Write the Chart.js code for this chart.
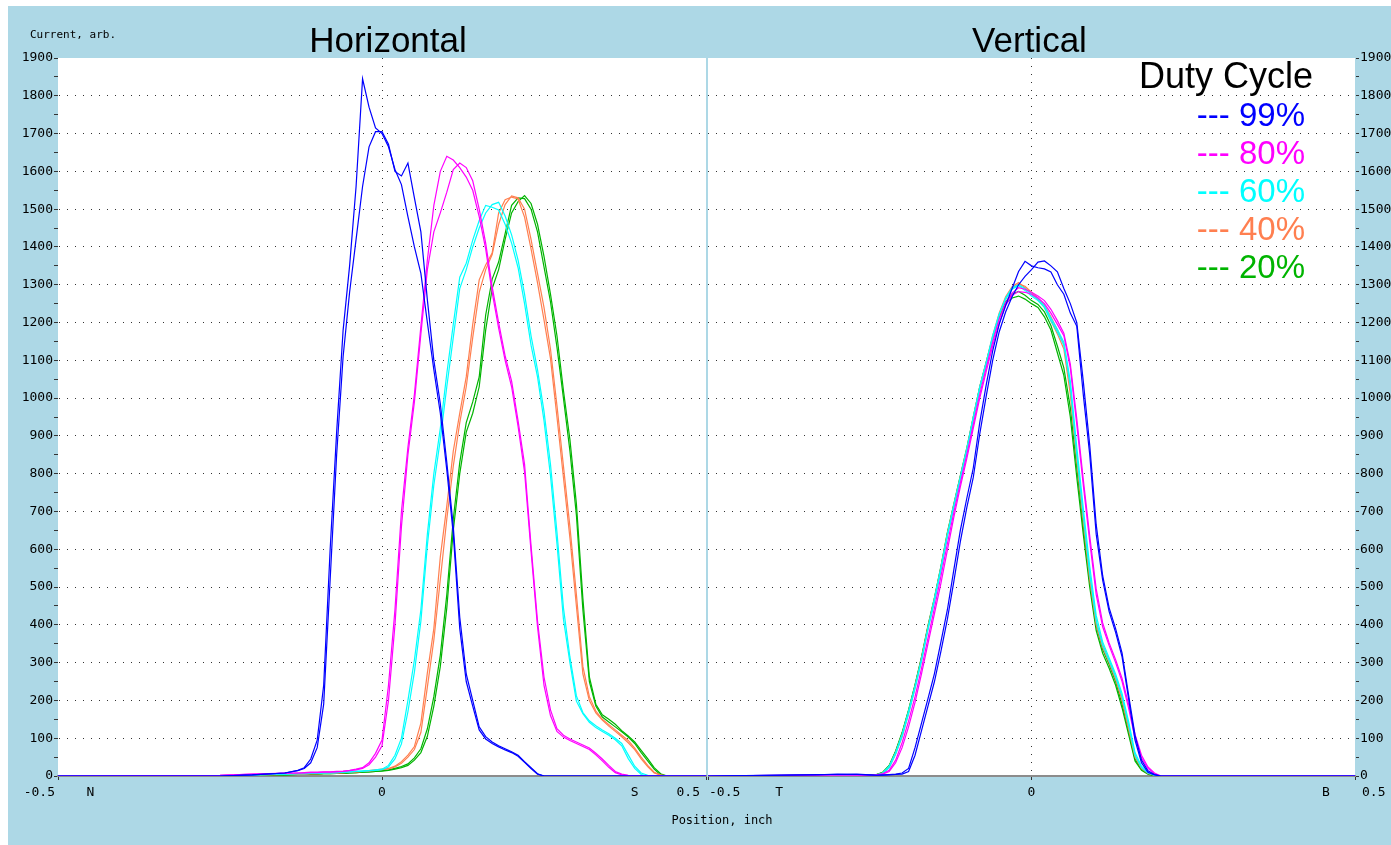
<!DOCTYPE html>
<html>
<head>
<meta charset="utf-8">
<title>Duty Cycle - Horizontal / Vertical</title>
<script src="https://cdn.jsdelivr.net/npm/chart.js@4.4.1/dist/chart.umd.min.js"></script>
<style>
    html, body { margin: 0; padding: 0; background: #fff; }
    #pagina { position: relative; width: 1391px; height: 845px; overflow: hidden; background: #fff; }
    #marco { position: absolute; left: 8px; top: 6px; width: 1383px; height: 839px; background: #add8e6; }
    canvas { position: absolute; display: block; }
    #graficoH { left: 8px; top: 6px; }
    #graficoV { left: 708px; top: 6px; }
    #ejeX { position: absolute; left: 622px; top: 813px; width: 200px; text-align: center;
            font: 12px "DejaVu Sans Mono", monospace; color: #000; }
</style>
</head>
<body>
<div id="pagina">
    <div id="marco"></div>
    <canvas id="graficoH" width="700" height="839"></canvas>
    <canvas id="graficoV" width="683" height="839"></canvas>
    <div id="ejeX">Position, inch</div>
</div>
<script>
// posiciones (inch) de cada barrido
const posH = [
    -0.5, -0.25, -0.2, -0.15, -0.13, -0.12, -0.11, -0.1, -0.09, -0.08,
    -0.07, -0.06, -0.05, -0.04, -0.03, -0.02, -0.01, 0, 0.01, 0.02,
    0.03, 0.04, 0.05, 0.06, 0.07, 0.08, 0.09, 0.1, 0.11, 0.12,
    0.13, 0.14, 0.15, 0.16, 0.17, 0.18, 0.19, 0.2, 0.21, 0.22,
    0.23, 0.24, 0.25, 0.26, 0.27, 0.28, 0.29, 0.3, 0.31, 0.32,
    0.33, 0.34, 0.35, 0.36, 0.37, 0.38, 0.39, 0.4, 0.41, 0.42,
    0.43, 0.44, 0.45, 0.5
]
const posV = [
    -0.5, -0.33, -0.3, -0.27, -0.25, -0.24, -0.23, -0.22, -0.21, -0.2,
    -0.19, -0.18, -0.17, -0.16, -0.15, -0.14, -0.13, -0.12, -0.11, -0.1,
    -0.09, -0.08, -0.07, -0.06, -0.05, -0.04, -0.03, -0.02, -0.01, 0,
    0.01, 0.02, 0.03, 0.04, 0.05, 0.06, 0.07, 0.08, 0.09, 0.1,
    0.11, 0.12, 0.13, 0.14, 0.15, 0.16, 0.17, 0.18, 0.19, 0.2,
    0.21, 0.5
]

// Horizontal, dos barridos por ciclo
const h99a = [
    0, 0, 3, 8, 15, 22, 45, 95, 240, 600,
    910, 1180, 1350, 1560, 1845, 1770, 1715, 1700, 1665, 1605,
    1565, 1480, 1400, 1330, 1200, 1075, 960, 810, 640, 390,
    250, 185, 122, 98, 86, 77, 69, 62, 52, 36,
    20, 5, 0, 0, 0, 0, 0, 0, 0, 0,
    0, 0, 0, 0, 0, 0, 0, 0, 0, 0,
    0, 0, 0, 0
]
const h99b = [
    0, 0, 3, 8, 14, 20, 35, 75, 190, 520,
    850, 1110, 1280, 1420, 1560, 1665, 1705, 1705, 1672, 1600,
    1588, 1622, 1530, 1440, 1260, 1100, 985, 830, 660, 420,
    270, 200, 130, 104, 90, 80, 72, 64, 55, 38,
    22, 6, 0, 0, 0, 0, 0, 0, 0, 0,
    0, 0, 0, 0, 0, 0, 0, 0, 0, 0,
    0, 0, 0, 0
]
const h80a = [
    0, 2, 5, 8, 8, 9, 10, 10, 11, 11,
    12, 13, 15, 18, 22, 35, 60, 95, 240, 440,
    700, 870, 1010, 1190, 1365, 1510, 1600, 1640, 1630, 1610,
    1585, 1550, 1480, 1395, 1280, 1185, 1100, 1030, 925, 805,
    595, 395, 240, 160, 118, 103, 94, 86, 78, 70,
    56, 40, 23, 9, 3, 1, 0, 0, 0, 0,
    0, 0, 0, 0
]
const h80b = [
    0, 2, 5, 7, 8, 8, 9, 9, 10, 10,
    11, 12, 14, 16, 20, 30, 50, 80, 200, 400,
    660, 850, 990, 1170, 1340, 1440, 1490, 1545, 1605, 1622,
    1610, 1575, 1500, 1410, 1295, 1200, 1112, 1045, 940, 825,
    610, 410, 262, 175, 125, 108, 98, 90, 82, 74,
    60, 45, 28, 12, 5, 2, 0, 0, 0, 0,
    0, 0, 0, 0
]
const h60a = [
    0, 1, 3, 5, 6, 6, 7, 7, 8, 8,
    9, 10, 11, 12, 13, 14, 16, 18, 28, 55,
    100, 200, 307, 440, 640, 800, 920, 1065, 1195, 1320,
    1357, 1418, 1470, 1510, 1505, 1498, 1460, 1410, 1345, 1250,
    1140, 1056, 940, 795, 615, 415, 300, 198, 165, 142,
    128, 118, 108, 96, 80, 46, 20, 4, 0, 0,
    0, 0, 0, 0
]
const h60b = [
    0, 1, 3, 5, 6, 6, 7, 7, 8, 8,
    9, 10, 11, 12, 13, 14, 15, 17, 24, 45,
    85, 170, 275, 410, 610, 770, 890, 1030, 1160, 1290,
    1340, 1400, 1450, 1490, 1512, 1518, 1482, 1432, 1365, 1275,
    1165, 1075, 965, 825, 645, 445, 315, 212, 168, 146,
    133, 122, 112, 100, 86, 56, 26, 8, 2, 0,
    0, 0, 0, 0
]
const h40a = [
    0, 1, 3, 4, 5, 5, 6, 6, 7, 7,
    8, 9, 10, 11, 12, 14, 16, 18, 20, 26,
    38, 55, 78, 140, 273, 390, 580, 715, 860, 960,
    1056, 1195, 1313, 1352, 1384, 1490, 1525, 1532, 1527, 1479,
    1395, 1305, 1207, 1105, 950, 790, 630, 450, 270, 200,
    167, 148, 132, 118, 104, 88, 70, 45, 25, 8,
    2, 0, 0, 0
]
const h40b = [
    0, 1, 3, 4, 5, 5, 6, 6, 7, 7,
    8, 9, 10, 11, 12, 13, 15, 17, 19, 24,
    34, 50, 70, 115, 235, 360, 520, 680, 820, 935,
    1030, 1160, 1280, 1340, 1380, 1460, 1512, 1535, 1530, 1500,
    1420, 1330, 1240, 1130, 980, 820, 660, 480, 290, 210,
    172, 150, 136, 122, 108, 94, 74, 50, 28, 10,
    3, 0, 0, 0
]
const h20a = [
    0, 0, 2, 3, 4, 4, 5, 5, 6, 6,
    7, 7, 8, 9, 10, 11, 12, 14, 16, 20,
    25, 32, 48, 72, 125, 210, 320, 480, 680, 830,
    935, 990, 1056, 1220, 1315, 1360, 1435, 1510, 1530, 1528,
    1500, 1440, 1347, 1255, 1135, 1000, 860, 690, 440, 250,
    185, 156, 143, 130, 117, 103, 86, 62, 40, 18,
    3, 0, 0, 0
]
const h20b = [
    0, 0, 2, 3, 4, 4, 5, 5, 6, 6,
    7, 7, 8, 9, 10, 11, 12, 13, 15, 18,
    22, 28, 42, 62, 105, 185, 290, 445, 650, 800,
    910, 960, 1030, 1180, 1290, 1340, 1420, 1490, 1520, 1536,
    1515, 1460, 1375, 1275, 1165, 1020, 890, 720, 470, 262,
    190, 162, 150, 137, 120, 106, 90, 68, 46, 22,
    6, 0, 0, 0
]

// Vertical
const v99a = [
    0, 4, 4, 5, 3, 2, 3, 4, 5, 8,
    20, 75, 140, 205, 271, 355, 440, 546, 650, 735,
    815, 935, 1035, 1125, 1195, 1245, 1290, 1335, 1362, 1350,
    1345, 1342, 1334, 1300, 1275, 1225, 1190, 1010, 850, 640,
    518, 435, 380, 315, 205, 95, 35, 10, 3, 0,
    0, 0
]
const v99b = [
    0, 3, 5, 4, 3, 2, 2, 3, 4, 5,
    12, 55, 120, 185, 250, 330, 415, 515, 620, 710,
    790, 905, 1005, 1100, 1175, 1228, 1268, 1300, 1322, 1340,
    1360, 1363, 1350, 1334, 1290, 1250, 1200, 1045, 875, 665,
    530, 445, 390, 325, 215, 108, 42, 14, 4, 0,
    0, 0
]
const v80a = [
    0, 3, 4, 3, 2, 3, 5, 12, 35, 75,
    130, 195, 270, 350, 430, 510, 598, 685, 765, 840,
    920, 1000, 1070, 1138, 1198, 1245, 1272, 1282, 1280, 1275,
    1265, 1250, 1225, 1195, 1165, 1080, 930, 770, 620, 480,
    395, 345, 300, 250, 180, 100, 48, 20, 6, 0,
    0, 0
]
const v80b = [
    0, 2, 3, 2, 2, 3, 6, 15, 42, 88,
    145, 210, 285, 365, 445, 528, 615, 698, 775, 850,
    930, 1010, 1080, 1148, 1208, 1252, 1278, 1292, 1288, 1280,
    1270, 1258, 1235, 1205, 1172, 1090, 945, 785, 635, 495,
    405, 352, 308, 258, 190, 110, 55, 24, 8, 0,
    0, 0
]
const v60a = [
    0, 0, 1, 1, 1, 2, 6, 22, 58, 105,
    165, 232, 305, 388, 462, 545, 635, 711, 785, 858,
    945, 1025, 1090, 1160, 1220, 1262, 1288, 1298, 1285, 1270,
    1258, 1240, 1205, 1175, 1140, 1031, 850, 690, 535, 410,
    345, 305, 262, 210, 135, 55, 22, 8, 2, 0,
    0, 0
]
const v60b = [
    0, 0, 1, 1, 1, 3, 8, 26, 62, 110,
    172, 238, 310, 392, 470, 552, 640, 718, 792, 866,
    950, 1030, 1095, 1165, 1222, 1265, 1292, 1300, 1290, 1275,
    1262, 1245, 1212, 1182, 1148, 1045, 870, 710, 555, 425,
    355, 312, 270, 218, 145, 62, 26, 10, 3, 0,
    0, 0
]
const v40a = [
    0, 0, 1, 1, 1, 3, 8, 25, 62, 110,
    170, 238, 312, 395, 470, 552, 642, 718, 792, 865,
    950, 1030, 1095, 1165, 1225, 1268, 1295, 1306, 1292, 1275,
    1260, 1240, 1205, 1170, 1130, 1010, 835, 675, 520, 400,
    340, 300, 255, 200, 125, 50, 20, 7, 2, 0,
    0, 0
]
const v40b = [
    0, 0, 1, 1, 1, 2, 7, 22, 58, 104,
    165, 233, 306, 390, 466, 548, 638, 714, 788, 860,
    946, 1026, 1092, 1160, 1218, 1262, 1290, 1302, 1296, 1280,
    1265, 1246, 1215, 1180, 1142, 1025, 848, 688, 532, 410,
    348, 306, 262, 206, 132, 55, 22, 8, 2, 0,
    0, 0
]
const v20a = [
    0, 0, 1, 1, 2, 4, 10, 28, 66, 115,
    175, 242, 315, 398, 472, 555, 645, 720, 795, 868,
    950, 1030, 1095, 1160, 1215, 1250, 1265, 1270, 1262, 1250,
    1240, 1215, 1180, 1120, 1060, 950, 790, 640, 500, 385,
    325, 285, 240, 180, 110, 40, 15, 5, 0, 0,
    0, 0
]
const v20b = [
    0, 0, 1, 1, 2, 3, 9, 26, 64, 112,
    172, 240, 312, 394, 468, 550, 640, 716, 790, 862,
    946, 1026, 1092, 1158, 1215, 1255, 1275, 1282, 1272, 1258,
    1248, 1228, 1192, 1138, 1080, 975, 815, 660, 515, 398,
    335, 295, 250, 190, 118, 45, 18, 6, 1, 0,
    0, 0
]

const ciclos = ['99%', '80%', '60%', '40%', '20%']
const colores = ['#0000ff', '#ff00ff', '#00ffff', '#ff7f50', '#00b400']
const barridosH = [[h99a, h99b], [h80a, h80b], [h60a, h60b], [h40a, h40b], [h20a, h20b]]
const barridosV = [[v99a, v99b], [v80a, v80b], [v60a, v60b], [v40a, v40b], [v20a, v20b]]

// etiquetas del eje x
const ticksX = [-0.5, 0, 0.5]
const textosX = ['-0.5', '0', '0.5']
const ladosH = ['N', 'S']
const ladosHPos = [-0.45, 0.39]
const ladosV = ['T', 'B']
const ladosVPos = [-0.39, 0.455]
const yMax = 1900

const armarDatasets = (pos, barridos) => barridos.flatMap((par, i) => par.map(valores => ({
    label: ciclos[i],
    data: pos.map((x, k) => ({ x: x, y: valores[k] })),
    borderColor: colores[i],
    borderWidth: 1.2,
    pointRadius: 0,
    tension: 0,
    fill: false
})))

const fondoBlanco = {
    id: 'fondoBlanco',
    beforeDraw: (chart) => {
        const { ctx, chartArea: a } = chart
        ctx.save()
        ctx.fillStyle = '#fff'
        ctx.fillRect(a.left, a.top, a.right - a.left, a.bottom - a.top)
        ctx.restore()
    }
}

const textos = (titulo, lados, ladosPos, alineado, extra) => ({
    id: 'textos',
    afterDraw: (chart) => {
        const { ctx, chartArea: a, scales: { x } } = chart
        ctx.save()
        ctx.fillStyle = '#000'
        ctx.font = '35px "Liberation Sans"'
        ctx.textAlign = 'center'
        ctx.textBaseline = 'alphabetic'
        ctx.fillText(titulo, (a.left + a.right) / 2 + alineado.dxTitulo, a.top - 6)

        ctx.font = '13px "DejaVu Sans Mono"'
        ctx.textBaseline = 'middle'
        const yTexto = a.bottom + 17
        ticksX.forEach((v, i) => {
            ctx.textAlign = alineado.ticks[i][0]
            ctx.fillText(textosX[i], x.getPixelForValue(v) + alineado.ticks[i][1], yTexto)
        })
        ctx.textAlign = 'center'
        lados.forEach((t, i) => ctx.fillText(t, x.getPixelForValue(ladosPos[i]), yTexto))
        if (extra) extra(chart)
        ctx.restore()
    }
})

const unidad = (chart) => {
    const { ctx, chartArea: a } = chart
    ctx.font = '11px "DejaVu Sans Mono"'
    ctx.textAlign = 'left'
    ctx.textBaseline = 'alphabetic'
    ctx.fillStyle = '#000'
    ctx.fillText('Current, arb.', a.left - 28, a.top - 20)
}

const leyenda = (chart) => {
    const { ctx, chartArea: a } = chart
    ctx.textAlign = 'right'
    ctx.textBaseline = 'alphabetic'
    ctx.fillStyle = '#000'
    ctx.font = '36px "Liberation Sans"'
    ctx.fillText('Duty Cycle', a.right - 42, a.top + 30)
    ctx.font = '33px "Liberation Sans"'
    ciclos.forEach((c, i) => {
        ctx.fillStyle = colores[i]
        ctx.fillText(`--- ${c}`, a.right - 50, a.top + 68 + i * 38)
    })
}

const colorGridY = (c) => {
    const v = c.tick ? c.tick.value : -1
    return (v % 100 === 0 && v > 0 && v < yMax) ? '#333' : 'rgba(0,0,0,0)'
}

const escalas = (ladoY, anchoY) => ({
    x: {
        type: 'linear',
        min: -0.5,
        max: 0.5,
        ticks: { stepSize: 0.5, display: false },
        grid: {
            color: c => (c.tick && c.tick.value === 0) ? '#333' : 'rgba(0,0,0,0)',
            tickColor: '#333',
            tickLength: 4
        },
        border: { color: '#8c8c8c', width: 2, dash: [1, 7] },
        afterFit: s => { s.height = 69 }
    },
    y: {
        position: ladoY,
        min: 0,
        max: yMax,
        ticks: {
            stepSize: 50,
            autoSkip: false,
            padding: 1,
            color: '#000',
            font: { family: 'DejaVu Sans Mono', size: 13 },
            callback: v => v % 100 === 0 ? String(v) : ''
        },
        grid: { color: colorGridY, tickColor: '#333', tickLength: 4 },
        border: { color: 'rgba(0,0,0,0)', dash: [1, 7] },
        afterFit: s => { s.width = anchoY }
    }
})

const opcionesBase = (ladoY, anchoY, padding) => ({
    responsive: false,
    animation: false,
    layout: { padding: padding },
    plugins: { legend: { display: false }, tooltip: { enabled: false } },
    scales: escalas(ladoY, anchoY)
})

new Chart(document.getElementById('graficoH'), {
    type: 'line',
    data: { datasets: armarDatasets(posH, barridosH) },
    options: opcionesBase('left', 50, { left: 0, top: 52, right: 2, bottom: 0 }),
    plugins: [fondoBlanco, textos('Horizontal', ladosH, ladosHPos,
        { dxTitulo: 6, ticks: [['right', -3], ['center', 0], ['right', -6]] }, unidad)]
})

new Chart(document.getElementById('graficoV'), {
    type: 'line',
    data: { datasets: armarDatasets(posV, barridosV) },
    options: opcionesBase('right', 36, { left: 0, top: 52, right: 0, bottom: 0 }),
    plugins: [fondoBlanco, textos('Vertical', ladosV, ladosVPos,
        { dxTitulo: -2, ticks: [['left', 1], ['center', 0], ['left', 7]] }, leyenda)]
})
</script>
</body>
</html>
